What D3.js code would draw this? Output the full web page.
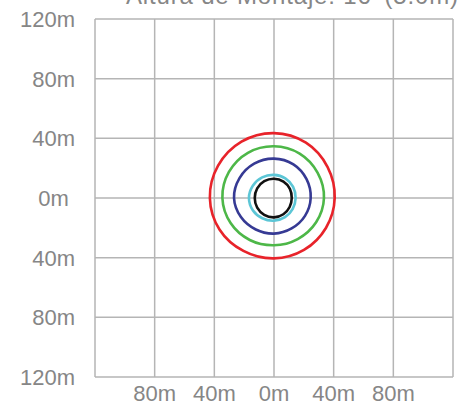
<!DOCTYPE html>
<html>
<head>
<meta charset="utf-8">
<script src="https://cdn.jsdelivr.net/npm/d3@7"></script>
<style>
  html, body { margin: 0; padding: 0; background: #fff; }
  svg { display: block; }
  text { font-family: "Liberation Sans", Arial, Helvetica, sans-serif; fill: #868686; }
</style>
</head>
<body>
<svg id="chart" width="461" height="403"></svg>
<script>
const title = "Altura de Montaje: 16' (5.0m)";
const gridTicks = [-120, -80, -40, 0, 40, 80, 120];
const yTickLabels = ["120m", "80m", "40m", "0m ", "40m", "80m", "120m"]; // top to bottom (120 .. -120)
const xTickValues = [-80, -40, 0, 40, 80];
const xTickLabels = ["80m", "40m", "0m", "40m", "80m"];

// contour radii (metres) at the angles below (degrees, counter-clockwise from +x)
const angles = [0, 30, 60, 90, 120, 150, 180, 210, 240, 270, 300, 330];
const redRadii   = [40.7, 41.5, 42.8, 43.5, 43.6, 43.3, 43.0, 42.2, 41.0, 40.5, 40.2, 40.2];
const greenRadii = [33.5, 33.8, 34.4, 34.7, 35.0, 34.9, 34.6, 33.6, 32.5, 31.7, 31.8, 32.6];
const blueRadii  = [24.6, 25.2, 26.0, 26.4, 26.6, 26.7, 26.8, 25.6, 24.4, 23.9, 23.6, 24.0];
const cyanRadii  = [14.5, 14.8, 15.2, 15.5, 15.9, 16.4, 16.8, 16.4, 15.7, 15.2, 14.8, 14.5];
const blackRadii = [11.9, 12.3, 12.7, 12.9, 13.0, 13.0, 12.9, 13.0, 13.1, 13.0, 12.6, 12.1];
const contourNames = ["red", "green", "blue", "cyan", "black"];
const contourColors = ["#e8232a", "#4db748", "#363a94", "#5cc6d6", "#111111"];

const contours = [redRadii, greenRadii, blueRadii, cyanRadii, blackRadii];

const svg = d3.select("#chart");
const plotLeft = 95, plotTop = 19, plotSize = 358;

const x = d3.scaleLinear().domain([-120, 120]).range([plotLeft, plotLeft + plotSize]);
const y = d3.scaleLinear().domain([-120, 120]).range([plotTop + plotSize, plotTop]);

const gridColor = "#b5b5b5";

// vertical grid
svg.append("g").selectAll("line").data(gridTicks).join("line")
  .attr("x1", d => x(d)).attr("x2", d => x(d))
  .attr("y1", y(-120)).attr("y2", y(120))
  .attr("stroke", gridColor).attr("stroke-width", 1.5);
// horizontal grid
svg.append("g").selectAll("line").data(gridTicks).join("line")
  .attr("y1", d => y(d)).attr("y2", d => y(d))
  .attr("x1", x(-120)).attr("x2", x(120))
  .attr("stroke", gridColor).attr("stroke-width", 1.5);

// y labels
svg.append("g").selectAll("text").data(gridTicks.slice().reverse()).join("text")
  .attr("x", 75).attr("y", d => y(d))
  .attr("dy", "0.36em")
  .attr("text-anchor", "end")
  .attr("font-size", 22)
  .style("white-space", "pre")
  .text((d, i) => yTickLabels[i]);

// x labels
svg.append("g").selectAll("text").data(xTickValues).join("text")
  .attr("x", d => x(d)).attr("y", 401)
  .attr("text-anchor", "middle")
  .attr("font-size", 22)
  .text((d, i) => xTickLabels[i]);

// title (partially cut off at top)
svg.append("text")
  .attr("x", 126).attr("y", 4)
  .attr("font-size", 24)
  .attr("textLength", 332)
  .attr("lengthAdjust", "spacing")
  .text(title);

// contours
const line = d3.line()
  .x(d => x(d.r * Math.cos(d.a * Math.PI / 180)))
  .y(d => y(d.r * Math.sin(d.a * Math.PI / 180)))
  .curve(d3.curveCatmullRomClosed.alpha(0.5));

svg.append("g").selectAll("path").data(contours).join("path")
  .attr("d", radii => line(radii.map((r, i) => ({ r, a: angles[i] }))))
  .attr("fill", "none")
  .attr("stroke", (d, i) => contourColors[i])
  .attr("stroke-width", 2.6);
</script>
</body>
</html>
